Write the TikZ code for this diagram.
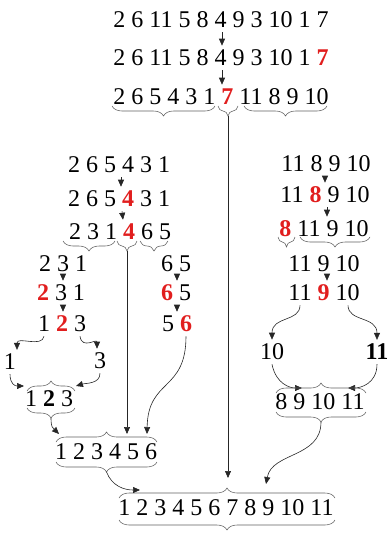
\documentclass[tikz,border=0pt]{standalone}
\usepackage{fontspec}
\setmainfont{Liberation Serif}
\usetikzlibrary{arrows.meta,decorations.pathreplacing}
\definecolor{pivot}{RGB}{225,30,30}
\definecolor{brgray}{RGB}{95,95,95}
\newcommand{\pv}[1]{\textcolor{pivot}{\textbf{#1}}}

\begin{document}
\begin{tikzpicture}[x=1pt,y=-1pt,
  num/.style={inner xsep=0pt,inner ysep=4pt,font=\fontsize{24}{26}\selectfont},
  arr/.style={-{Triangle[length=7pt,width=6pt]},line width=0.6pt,draw=black!85},
  brc/.style={decorate,decoration={brace,amplitude=10pt},draw=brgray,line width=0.55pt},
  brcd/.style={decorate,decoration={brace,mirror,amplitude=10pt},draw=brgray,line width=0.55pt}]
  \useasboundingbox (0,0) rectangle (390,538);
  % first split
  \node[num] (r1) at (221,20) {2 6 11 5 8 4 9 3 10 1 7};
  \node[num] (r2) at (221,58) {2 6 11 5 8 4 9 3 10 1 \pv{7}};
  \node[num] (r3) at (221,97) {2 6 5 4 3 1 \pv{7} 11 8 9 10};
  \draw[arr] ([xshift=1]r1.south) -- ([xshift=1]r2.north);
  \draw[arr] ([xshift=1]r2.south) -- ([xshift=1]r3.north);
  \draw[brcd] (112,106) -- (215,106);
  \draw[brcd] (218,106) -- (238,106);
  \draw[brcd] (244,106) -- (327,106);
  \coordinate (t7) at (228,116);
  % left part
  \node[num] (l1) at (119,165) {2 6 5 4 3 1};
  \node[num] (l2) at (119,199) {2 6 5 \pv{4} 3 1};
  \node[num] (l3) at (120,232) {2 3 1 \pv{4} 6 5};
  \draw[arr] ([xshift=2]l1.south) -- ([xshift=2]l2.north);
  \draw[arr] ([xshift=3]l2.south) -- ([xshift=3]l3.north);
  \draw[brcd] (63,241) -- (115,241);
  \draw[brcd] (117,241) -- (137,241);
  \draw[brcd] (140,241) -- (168,241);
  \coordinate (t4) at (127,251);
  \node[num] (l4) at (63,264) {2 3 1};
  \node[num] (l5) at (61,293) {\pv{2} 3 1};
  \node[num] (l6) at (62,324) {1 \pv{2} 3};
  \draw[arr] (l4.south) -- (l4.south |- l5.north);
  \draw[arr] ([xshift=2]l5.south) -- ([xshift=1]l6.north);
  \node[num] (m4) at (176,264) {6 5};
  \node[num] (m5) at (176,293) {\pv{6} 5};
  \node[num] (m6) at (177,324) {5 \pv{6}};
  \draw[arr] ([xshift=1]m4.south) -- ([xshift=1]m5.north);
  \draw[arr] ([xshift=1]m5.south) -- (m6.north);
  \node[num] (s1) at (10,362) {1};
  \node[num] (s3) at (100,361) {3};
  \draw[arr] ([xshift=-18]l6.south) .. controls (42,348) and (17,336) .. ([xshift=7]s1.north);
  \draw[arr] ([xshift=18]l6.south) .. controls (82,350) and (97,338) .. ([xshift=-3]s3.north);
  \node[num] (b3) at (49,399) {1 \textbf{2} 3};
  \draw[arr] (s1.south) .. controls (10,384) and (15,386) .. (24,386);
  \draw[arr] (s3.south) .. controls (100,384) and (86,383) .. (76,386);
  \draw[brc] (27,391) -- (75,391);
  \draw[brcd] (27,408) -- (75,408);
  \coordinate (t3) at (51,418);
  \node[num] (b6) at (106,452) {1 2 3 4 5 6};
  \draw[brc] (56,442) -- (157,442);
  \draw[brcd] (56,462) -- (157,462);
  \coordinate (t6) at (106.5,472);
  \draw[arr] (t3) .. controls (51,428) and (53,428) .. (59,434);
  \draw[arr] (t4) -- (127,434);
  \draw[arr] ([xshift=9]m6.south) .. controls (186,392) and (148,378) .. (147,434);
  % right part
  \node[num] (q1) at (326,164) {11 8 9 10};
  \node[num] (q2) at (325,195) {11 \pv{8} 9 10};
  \node[num] (q3) at (324,229) {\pv{8} 11 9 10};
  \draw[arr] ([xshift=-1]q1.south) -- ([xshift=-1]q1.south |- q2.north);
  \draw[arr] ([xshift=2]q2.south) -- ([xshift=2]q2.south |- q3.north);
  \draw[brcd] (278,237) -- (295,237);
  \draw[brcd] (300,237) -- (370,237);
  \node[num] (q4) at (324,264) {11 9 10};
  \node[num] (q5) at (324,293) {11 \pv{9} 10};
  \draw[arr] ([xshift=3]q4.south) -- ([xshift=3]q5.north);
  \node[num] (u1) at (272,352) {10};
  \node[num] (u2) at (377,352) {\textbf{11}};
  \draw[arr] ([xshift=-24]q5.south) .. controls (300,322) and (272,316) .. (u1.north);
  \draw[arr] ([xshift=24]q5.south) .. controls (348,322) and (377,316) .. (u2.north);
  \node[num] (b8) at (320,402) {8 9 10 11};
  \draw[arr] (u1.south) .. controls (276,384) and (290,388) .. (302,388);
  \draw[arr] (u2.south) .. controls (377,384) and (360,388) .. (348,388);
  \draw[brc] (276,393) -- (366,393);
  \draw[brcd] (276,412) -- (366,412);
  \coordinate (t8) at (321,422);
  % final
  \node[num] (fin) at (226,508) {1 2 3 4 5 6 7 8 9 10 11};
  \draw[brc] (119,498) -- (335,498);
  \draw[brcd] (119,520) -- (335,520);
  \draw[arr] (t7) -- (t7 |- 0,478);
  \draw[arr] (t8) .. controls (321,458) and (272,452) .. (266,484);
  \draw[arr] (t6) .. controls (112,486) and (124,490) .. (140,490);
\end{tikzpicture}
\end{document}
